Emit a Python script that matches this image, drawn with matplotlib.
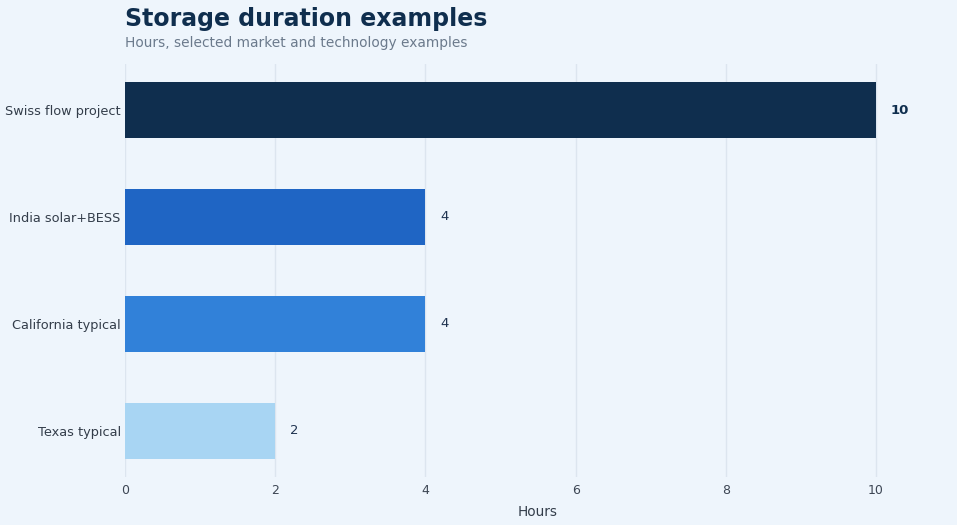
import matplotlib
matplotlib.use('Agg')
import matplotlib.pyplot as plt

# --- datos ---
categories = ['Texas typical', 'California typical', 'India solar+BESS', 'Swiss flow project']
hours = [2, 4, 4, 10]
bar_colors = ['#a8d5f3', '#3181d9', '#1f65c4', '#0f2e4e']
x_ticks = [0, 2, 4, 6, 8, 10]

BG = '#eef5fc'
NAVY = '#0f2e4e'

fig = plt.figure(figsize=(9.57, 5.25), dpi=100, facecolor=BG)
ax = fig.add_axes([0.1306, 0.092, 0.8632, 0.786], facecolor=BG)

y = range(len(categories))
ax.barh(y, hours, height=0.52, color=bar_colors, zorder=2)

for yi, v in zip(y, hours):
    bold = v == max(hours)
    ax.text(v + 0.2, yi, str(v), va='center', ha='left', fontsize=9.5,
            fontweight='bold' if bold else 'normal',
            color=NAVY if bold else '#1f3350')

ax.set_yticks(list(y))
ax.set_yticklabels(categories, fontsize=9.3, color='#333d4a')
ax.set_xticks(x_ticks)
ax.set_xticklabels([str(t) for t in x_ticks], fontsize=9, color='#3d4654')
ax.set_xlim(0, 11)
ax.set_ylim(-0.43, 3.43)
ax.tick_params(axis='y', length=0, pad=3)
ax.tick_params(axis='x', length=0, pad=5)
ax.grid(axis='x', color='#dce5ef', linewidth=1, zorder=0)
ax.grid(axis='y', visible=False)
for s in ax.spines.values():
    s.set_visible(False)
ax.set_xlabel('Hours', fontsize=9.8, color='#333d4a', labelpad=6)

fig.text(0.1306, 0.963, 'Storage duration examples', fontsize=17, fontweight='bold',
         color=NAVY, ha='left', va='center')
fig.text(0.1306, 0.918, 'Hours, selected market and technology examples', fontsize=9.9,
         color='#6b7a8c', ha='left', va='center')

fig.savefig('out.png', dpi=100, facecolor=BG)
